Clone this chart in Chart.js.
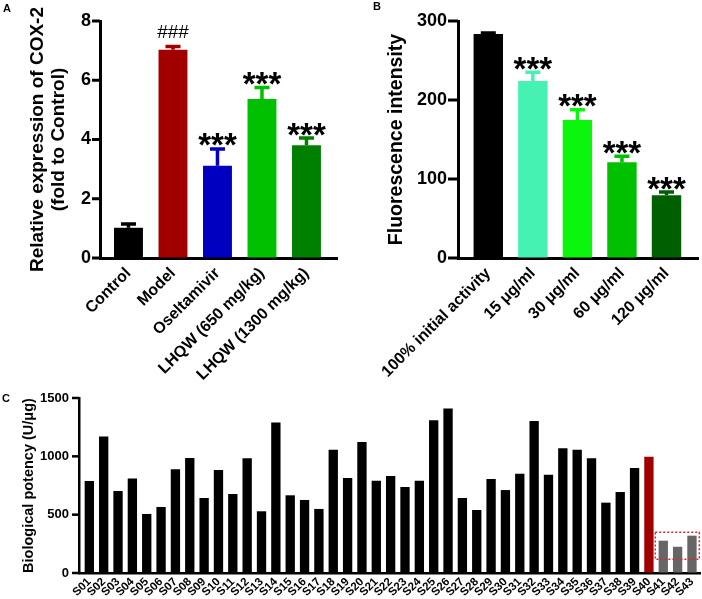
<!DOCTYPE html>
<html>
<head>
<meta charset="utf-8">
<script src="https://cdn.jsdelivr.net/npm/chart.js@4.4.1/dist/chart.umd.min.js"></script>
<style>
  html, body { margin: 0; padding: 0; background: #fff; }
  #page { position: relative; width: 702px; height: 599px; overflow: hidden; font-family: "Liberation Sans", Arial, sans-serif; }
  canvas { position: absolute; }
  .tag { position: absolute; font-weight: bold; font-size: 11px; line-height: 1; color: #000; }
</style>
</head>
<body>
<div id="page">
  <canvas id="cox2Chart" width="350" height="385" style="left:0;top:0"></canvas>
  <canvas id="fluoChart" width="352" height="385" style="left:350px;top:0"></canvas>
  <canvas id="potencyChart" width="702" height="214" style="left:0;top:385px"></canvas>
  <div class="tag" style="left:3px;top:3px">A</div>
  <div class="tag" style="left:373px;top:1px">B</div>
  <div class="tag" style="left:2px;top:393px">C</div>
</div>
<script>
// panel A
const cox2Groups = ["Control", "Model", "Oseltamivir", "LHQW (650 mg/kg)", "LHQW (1300 mg/kg)"];
const cox2Means = [1.02, 7.03, 3.11, 5.37, 3.81];
const cox2Sd = [0.18, 0.16, 0.62, 0.44, 0.29];
const cox2Marks = ["", "###", "***", "***", "***"];
const cox2Ticks = [0, 2, 4, 6, 8];

// panel B
const fluoGroups = ["100% initial activity", "15 μg/ml", "30 μg/ml", "60 μg/ml", "120 μg/ml"];
const fluoMeans = [283.6, 223.9, 174.6, 121.2, 79.5];
const fluoSd = [3.0, 13.0, 14.8, 9.6, 5.9];
const fluoMarks = ["", "***", "***", "***", "***"];
const fluoTicks = [0, 100, 200, 300];

// panel C
const sampleNames = ["S01", "S02", "S03", "S04", "S05", "S06", "S07", "S08", "S09", "S10",
  "S11", "S12", "S13", "S14", "S15", "S16", "S17", "S18", "S19", "S20",
  "S21", "S22", "S23", "S24", "S25", "S26", "S27", "S28", "S29", "S30",
  "S31", "S32", "S33", "S34", "S35", "S36", "S37", "S38", "S39", "S40",
  "S41", "S42", "S43"];
const samplePotency = [789, 1170, 703, 809, 506, 566, 889, 986, 643, 883,
  677, 983, 529, 1289, 666, 626, 549, 1057, 814, 1123,
  791, 831, 737, 791, 1309, 1411, 643, 540, 806, 711,
  851, 1303, 843, 1069, 1057, 983, 603, 694, 900, 997,
  277, 225, 320];
const potencyTicks = [0, 500, 1000, 1500];
const referenceSample = "S40";
const lowSamples = ["S41", "S42", "S43"];
const lowBoxRange = [117, 349];

const FONT = "'Liberation Sans', Arial, sans-serif";

const errorBars = {
  id: "errorBars",
  afterDatasetsDraw(chart, args, opts) {
    const { ctx, scales: { x, y } } = chart;
    const data = chart.data.datasets[0].data;
    ctx.save();
    opts.sd.forEach((sd, i) => {
      const px = x.getPixelForValue(i);
      const top = y.getPixelForValue(data[i].y + sd);
      ctx.strokeStyle = opts.colors[i];
      ctx.lineWidth = 3.5;
      ctx.beginPath();
      ctx.moveTo(px, y.getPixelForValue(data[i].y));
      ctx.lineTo(px, top);
      ctx.moveTo(px - 7.5, top + 1.5);
      ctx.lineTo(px + 7.5, top + 1.5);
      ctx.stroke();

      const mark = opts.marks[i];
      if (mark) {
        const hash = mark[0] === "#";
        ctx.fillStyle = "#000";
        ctx.textAlign = "center";
        ctx.textBaseline = "alphabetic";
        ctx.font = hash ? "19px " + FONT : "bold 33px " + FONT;
        ctx.fillText(mark, px, hash ? top - 7 : top + 9);
      }
    });
    ctx.restore();
  }
};

// short outward ticks on the value axis
const yTickMarks = {
  id: "yTickMarks",
  afterDraw(chart, args, opts) {
    const { ctx, scales: { y } } = chart;
    ctx.save();
    ctx.strokeStyle = "#000";
    ctx.lineWidth = opts.width;
    y.ticks.forEach(t => {
      const py = y.getPixelForValue(t.value);
      ctx.beginPath();
      ctx.moveTo(y.right - opts.length, py);
      ctx.lineTo(y.right, py);
      ctx.stroke();
    });
    ctx.restore();
  }
};

const lowBox = {
  id: "lowBox",
  afterDatasetsDraw(chart, args, opts) {
    const { ctx, scales: { x, y } } = chart;
    const from = sampleNames.indexOf(opts.names[0]);
    const to = sampleNames.indexOf(opts.names[opts.names.length - 1]);
    const left = x.getPixelForValue(from - 0.56);
    const right = x.getPixelForValue(to + 0.51);
    const top = y.getPixelForValue(opts.range[1]);
    const bottom = y.getPixelForValue(opts.range[0]);
    ctx.save();
    ctx.strokeStyle = "#d8282e";
    ctx.lineWidth = 1.5;
    ctx.setLineDash([2, 2]);
    ctx.strokeRect(left, top, right - left, bottom - top);
    ctx.restore();
  }
};

// tick labels would otherwise push the plot area inwards
function fixX(height) {
  return s => {
    s.height = height;
    s.paddingLeft = 0;
    s.paddingRight = 0;
  };
}

function fixY(width) {
  return s => {
    s.width = width;
    s.paddingTop = 0;
    s.paddingBottom = 0;
  };
}

function groupChart(id, o) {
  const ctx = document.getElementById(id).getContext("2d");
  return new Chart(ctx, {
    type: "bar",
    data: {
      datasets: [{
        data: o.values.map((v, i) => ({ x: i, y: v })),
        backgroundColor: o.colors,
        barPercentage: o.barPct,
        categoryPercentage: 1
      }]
    },
    options: {
      responsive: false,
      animation: false,
      devicePixelRatio: 1,
      layout: { padding: o.padding },
      plugins: {
        legend: { display: false },
        tooltip: { enabled: false },
        errorBars: { sd: o.sd, colors: o.colors, marks: o.marks },
        yTickMarks: { length: o.tickLen, width: 3 }
      },
      scales: {
        x: {
          type: "linear",
          offset: false,
          min: o.xMin,
          max: o.xMax,
          afterBuildTicks: s => { s.ticks = o.labels.map((_, i) => ({ value: i })); },
          afterFit: fixX(o.xHeight),
          grid: { display: false, drawTicks: false },
          border: { color: "#000", width: 3 },
          ticks: {
            autoSkip: false, minRotation: 45, maxRotation: 45, padding: 6, color: "#000",
            font: { family: FONT, size: 16, weight: "bold" },
            callback: v => o.labels[v]
          }
        },
        y: {
          min: 0,
          max: o.ticks[o.ticks.length - 1],
          afterFit: fixY(o.yWidth),
          afterBuildTicks: s => { s.ticks = o.ticks.map(v => ({ value: v })); },
          grid: { drawOnChartArea: false, drawTicks: false },
          border: { color: "#000", width: 3 },
          ticks: {
            padding: o.tickLen + 1, color: "#000",
            font: { family: FONT, size: 18, weight: "bold" },
            callback: v => String(v)
          },
          title: {
            display: true, text: o.yTitle, color: "#000",
            font: { family: FONT, size: o.titleSize, weight: "bold", lineHeight: 1.13 },
            padding: { top: o.titlePad, bottom: 0 }
          }
        }
      }
    },
    plugins: [errorBars, yTickMarks]
  });
}

groupChart("cox2Chart", {
  labels: cox2Groups, values: cox2Means, sd: cox2Sd, marks: cox2Marks, ticks: cox2Ticks,
  colors: ["#000000", "#a00000", "#0000c0", "#00c000", "#008000"],
  yTitle: ["Relative expression of COX-2", "(fold to Control)"],
  xMin: -0.64, xMax: 4.686, barPct: 0.65,
  padding: { top: 21, right: 13, left: 0, bottom: 0 },
  xHeight: 127, yWidth: 100, titlePad: 27, titleSize: 19, tickLen: 8
});

groupChart("fluoChart", {
  labels: fluoGroups, values: fluoMeans, sd: fluoSd, marks: fluoMarks, ticks: fluoTicks,
  colors: ["#000000", "#45f2b2", "#0cf50c", "#00c000", "#005f00"],
  yTitle: "Fluorescence intensity",
  xMin: -0.68, xMax: 4.707, barPct: 0.66,
  padding: { top: 21, right: 4, left: 0, bottom: 0 },
  xHeight: 127, yWidth: 108, titlePad: 36, titleSize: 19.5, tickLen: 10
});

(function () {
  const ctx = document.getElementById("potencyChart").getContext("2d");
  const colors = sampleNames.map(n => n === referenceSample ? "#a00000" : (lowSamples.includes(n) ? "#666666" : "#000000"));
  new Chart(ctx, {
    type: "bar",
    data: {
      datasets: [{
        data: samplePotency.map((v, i) => ({ x: i, y: v })),
        backgroundColor: colors,
        barPercentage: 0.65,
        categoryPercentage: 1
      }]
    },
    options: {
      responsive: false,
      animation: false,
      devicePixelRatio: 1,
      layout: { padding: { top: 13, right: 2, left: 0, bottom: 0 } },
      plugins: {
        legend: { display: false },
        tooltip: { enabled: false },
        lowBox: { names: lowSamples, range: lowBoxRange },
        yTickMarks: { length: 7, width: 2.5 }
      },
      scales: {
        x: {
          type: "linear",
          offset: false,
          min: -0.72,
          max: 42.56,
          afterBuildTicks: s => { s.ticks = sampleNames.map((_, i) => ({ value: i })); },
          afterFit: fixX(26),
          grid: { display: false, drawTicks: false },
          border: { color: "#000", width: 2.5 },
          ticks: {
            autoSkip: false, minRotation: 45, maxRotation: 45, padding: 2, color: "#000",
            font: { family: FONT, size: 11.5, weight: "bold" },
            callback: v => sampleNames[v]
          }
        },
        y: {
          min: 0,
          max: potencyTicks[potencyTicks.length - 1],
          afterFit: fixY(79),
          afterBuildTicks: s => { s.ticks = potencyTicks.map(v => ({ value: v })); },
          grid: { drawOnChartArea: false, drawTicks: false },
          border: { color: "#000", width: 2.5 },
          ticks: { padding: 10, color: "#000", font: { family: FONT, size: 13, weight: "bold" }, callback: v => String(v) },
          title: {
            display: true, text: "Biological potency (U/μg)", color: "#000",
            font: { family: FONT, size: 14.5, weight: "bold", lineHeight: 1.2 },
            padding: { top: 20, bottom: 0 }
          }
        }
      }
    },
    plugins: [lowBox, yTickMarks]
  });
})();
</script>
</body>
</html>
